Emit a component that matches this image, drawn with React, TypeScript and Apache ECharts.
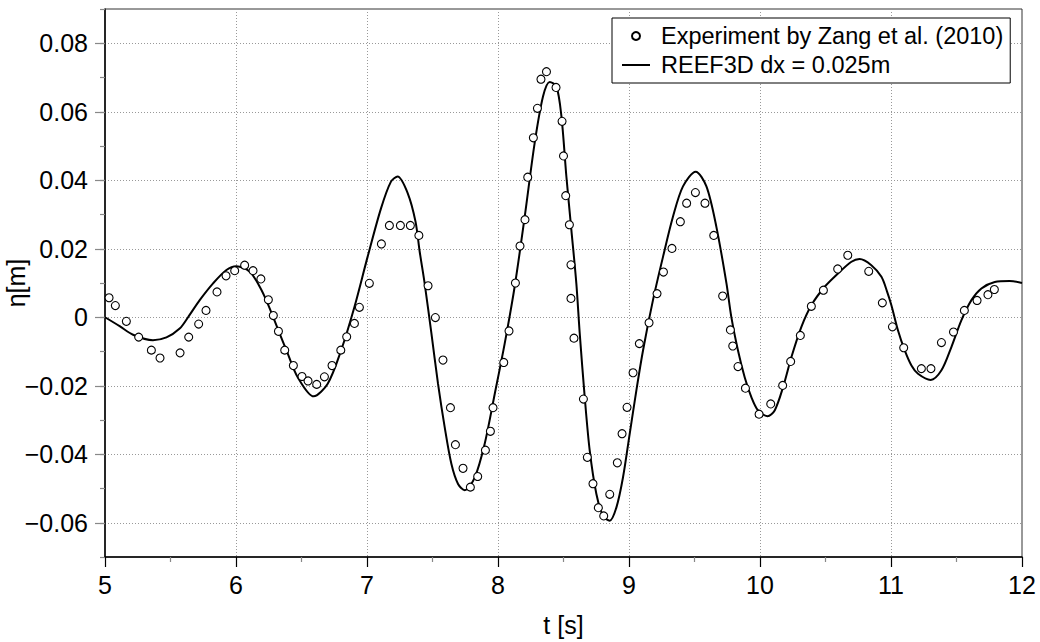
import React, { useEffect, useRef } from "react";
import * as echarts from "echarts";

const expT = [5.031, 5.079, 5.163, 5.257, 5.354, 5.42, 5.573, 5.639, 5.715, 5.771, 5.855, 5.924, 5.99, 6.066, 6.13, 6.19, 6.247, 6.285, 6.324, 6.372, 6.438, 6.504, 6.55, 6.616, 6.675, 6.733, 6.8, 6.845, 6.904, 6.942, 7.018, 7.11, 7.171, 7.255, 7.331, 7.396, 7.466, 7.522, 7.58, 7.637, 7.675, 7.733, 7.789, 7.845, 7.904, 7.942, 7.962, 8.044, 8.084, 8.133, 8.168, 8.206, 8.227, 8.27, 8.301, 8.328, 8.37, 8.443, 8.489, 8.5, 8.517, 8.545, 8.557, 8.557, 8.58, 8.652, 8.682, 8.725, 8.766, 8.807, 8.853, 8.911, 8.947, 8.985, 9.031, 9.079, 9.153, 9.214, 9.263, 9.328, 9.392, 9.44, 9.507, 9.58, 9.647, 9.715, 9.774, 9.792, 9.832, 9.889, 9.993, 10.082, 10.173, 10.234, 10.308, 10.392, 10.484, 10.593, 10.67, 10.83, 10.934, 11.011, 11.097, 11.232, 11.305, 11.385, 11.477, 11.56, 11.657, 11.74, 11.789];
const expEta = [0.0057, 0.0034, -0.0012, -0.0058, -0.0096, -0.0119, -0.0104, -0.0058, -0.002, 0.002, 0.0074, 0.0121, 0.0136, 0.0152, 0.0136, 0.0112, 0.0051, 0.0005, -0.0041, -0.0096, -0.0141, -0.0173, -0.0186, -0.0196, -0.0174, -0.0141, -0.0096, -0.0057, -0.0018, 0.0029, 0.0099, 0.0214, 0.0268, 0.0268, 0.0268, 0.0239, 0.0092, -0.0001, -0.0125, -0.0264, -0.0372, -0.0441, -0.0496, -0.0465, -0.0388, -0.0333, -0.0264, -0.0132, -0.004, 0.01, 0.0208, 0.0285, 0.0409, 0.0524, 0.061, 0.0695, 0.0717, 0.0671, 0.0572, 0.0471, 0.0355, 0.027, 0.0153, 0.0055, -0.0061, -0.0239, -0.0409, -0.0486, -0.0556, -0.058, -0.0517, -0.0425, -0.034, -0.0263, -0.0162, -0.0077, -0.0016, 0.0069, 0.0132, 0.0201, 0.0279, 0.0333, 0.0364, 0.0333, 0.0239, 0.0062, -0.0037, -0.0084, -0.0144, -0.0207, -0.0283, -0.0253, -0.0199, -0.0129, -0.0053, 0.0032, 0.0079, 0.0141, 0.0181, 0.0134, 0.0042, -0.0028, -0.0089, -0.015, -0.015, -0.0074, -0.0043, 0.002, 0.0049, 0.0066, 0.0081];

const simT = [5.0, 5.112, 5.214, 5.366, 5.469, 5.57, 5.634, 5.723, 5.825, 5.927, 6.003, 6.105, 6.181, 6.242, 6.318, 6.395, 6.471, 6.593, 6.7, 6.802, 6.904, 7.005, 7.107, 7.183, 7.234, 7.311, 7.37, 7.402, 7.44, 7.492, 7.542, 7.593, 7.644, 7.695, 7.746, 7.822, 7.898, 7.975, 8.051, 8.127, 8.204, 8.28, 8.344, 8.395, 8.446, 8.484, 8.522, 8.56, 8.598, 8.624, 8.662, 8.7, 8.751, 8.802, 8.853, 8.904, 8.954, 9.005, 9.056, 9.107, 9.183, 9.26, 9.336, 9.412, 9.509, 9.591, 9.667, 9.744, 9.781, 9.832, 9.883, 9.934, 9.985, 10.057, 10.112, 10.176, 10.24, 10.316, 10.392, 10.494, 10.596, 10.698, 10.76, 10.85, 10.927, 10.97, 11.003, 11.053, 11.105, 11.156, 11.206, 11.303, 11.385, 11.461, 11.537, 11.614, 11.69, 11.792, 11.906, 12.0];
const simEta = [0, -0.0026, -0.0051, -0.0067, -0.0059, -0.0033, 0, 0.005, 0.0099, 0.0138, 0.0149, 0.0133, 0.0089, 0.004, -0.0033, -0.0106, -0.0175, -0.0231, -0.0194, -0.0097, 0.003, 0.0177, 0.0318, 0.0396, 0.0411, 0.0362, 0.028, 0.0192, 0.0099, -0.0048, -0.0194, -0.0321, -0.0428, -0.0487, -0.0505, -0.0468, -0.037, -0.0224, -0.0077, 0.0089, 0.0294, 0.0509, 0.0645, 0.0687, 0.0674, 0.0587, 0.0411, 0.0255, 0.0099, -0.0048, -0.0233, -0.0389, -0.0516, -0.058, -0.0594, -0.0555, -0.0468, -0.0341, -0.0214, -0.0097, 0.005, 0.0177, 0.0294, 0.0382, 0.0425, 0.0382, 0.0264, 0.0099, 0.0001, -0.0097, -0.0175, -0.0233, -0.0272, -0.0289, -0.0272, -0.0204, -0.0116, -0.0028, 0.0035, 0.0089, 0.0128, 0.0162, 0.017, 0.0152, 0.0118, 0.0075, 0.0035, -0.0038, -0.0097, -0.0141, -0.0165, -0.0183, -0.0155, -0.0087, -0.0009, 0.005, 0.0084, 0.0103, 0.0106, 0.01];

const yMajorTicks = [-0.06, -0.04, -0.02, 0, 0.02, 0.04, 0.06, 0.08];

const FONT = "'Liberation Sans', Arial, Helvetica, sans-serif";

export default function App() {
  const ref = useRef<HTMLDivElement>(null);
  useEffect(() => {
    if (!ref.current) return;
    const chart = echarts.init(ref.current, null, { renderer: "svg" });
    const fmt = (v: number) => {
      if (Math.abs(v) < 1e-9) return "0";
      return (v < 0 ? "\u2212" : "") + Math.abs(v).toFixed(2);
    };
    chart.setOption({
      animation: false,
      backgroundColor: "#fff",
      textStyle: { fontFamily: FONT },
      grid: {
        left: 105,
        top: 9,
        width: 917,
        height: 548,
        containLabel: false,
        outerBoundsMode: "none",
        show: true,
        borderColor: "#333",
        borderWidth: 1,
        backgroundColor: "transparent",
      },
      legend: {
        left: 612,
        top: 18,
        orient: "vertical",
        backgroundColor: "#fff",
        borderColor: "#000",
        borderWidth: 1,
        borderRadius: 0,
        padding: [6, 7, 6, 10],
        itemGap: 5,
        itemWidth: 28,
        itemHeight: 8,
        textStyle: {
          fontFamily: FONT,
          fontSize: 23.5,
          color: "#000",
          lineHeight: 24,
          padding: [0, 0, 0, 6],
        },
        data: [
          { name: "Experiment by Zang et al. (2010)" },
          { name: "REEF3D dx = 0.025m", icon: "path://M0,0 L28,0 L28,2 L0,2 Z" },
        ],
      },
      xAxis: {
        type: "value",
        min: 5,
        max: 12,
        interval: 1,
        name: "t [s]",
        nameLocation: "middle",
        nameGap: 55,
        nameMoveOverlap: false,
        nameTextStyle: { fontFamily: FONT, fontSize: 25, color: "#000" },
        axisLine: { show: true, onZero: false, lineStyle: { color: "#000", width: 1.5 } },
        axisTick: { show: true, length: 10, lineStyle: { color: "#000", width: 1.2 } },
        minorTick: { show: true, splitNumber: 2, length: 5, lineStyle: { color: "#888", width: 1.2 } },
        axisLabel: { fontFamily: FONT, fontSize: 25, color: "#000", margin: 15 },
        splitLine: { show: true, lineStyle: { color: "#999", type: [1, 2], width: 1 } },
      },
      yAxis: [
        {
          type: "value",
          min: -0.07,
          max: 0.09,
          interval: 0.01,
          position: "left",
          axisLine: { show: true, onZero: false, lineStyle: { color: "#000", width: 1.5 } },
          axisTick: { show: true, length: 5, lineStyle: { color: "#888", width: 1.2 } },
          axisLabel: { show: false },
          splitLine: { show: false },
        },
        {
          type: "value",
          min: -0.07,
          max: 0.09,
          position: "left",
          offset: 0,
          name: "η[m]",
          nameLocation: "middle",
          nameGap: 77,
          nameRotate: 90,
          nameMoveOverlap: false,
          nameTextStyle: { fontFamily: FONT, fontSize: 25, color: "#000" },
          axisLine: { show: false },
          axisTick: { show: true, length: 10, customValues: yMajorTicks, lineStyle: { color: "#888", width: 1.2 } },
          axisLabel: {
            show: true,
            customValues: yMajorTicks,
            fontFamily: FONT,
            fontSize: 25,
            color: "#000",
            margin: 17,
            formatter: fmt,
          },
          splitLine: { show: true, lineStyle: { color: "#999", type: [1, 2], width: 1 } },
        },
      ],
      series: [
        {
          name: "Experiment by Zang et al. (2010)",
          type: "scatter",
          yAxisIndex: 0,
          symbol: "circle",
          symbolSize: 8,
          itemStyle: { color: "#fff", borderColor: "#000", borderWidth: 1.1, opacity: 1 },
          data: expT.map((t, i) => [t, expEta[i]]),
          z: 3,
        },
        {
          name: "REEF3D dx = 0.025m",
          type: "line",
          yAxisIndex: 0,
          symbol: "none",
          showSymbol: false,
          smooth: 0.3,
          lineStyle: { color: "#000", width: 2 },
          itemStyle: { color: "#000" },
          data: simT.map((t, i) => [t, simEta[i]]),
          z: 2,
        },
      ],
    });
    return () => chart.dispose();
  }, []);
  return (
    <div
      ref={ref}
      style={{ position: "absolute", left: 0, top: 0, width: 1040, height: 642, background: "#fff" }}
    />
  );
}
